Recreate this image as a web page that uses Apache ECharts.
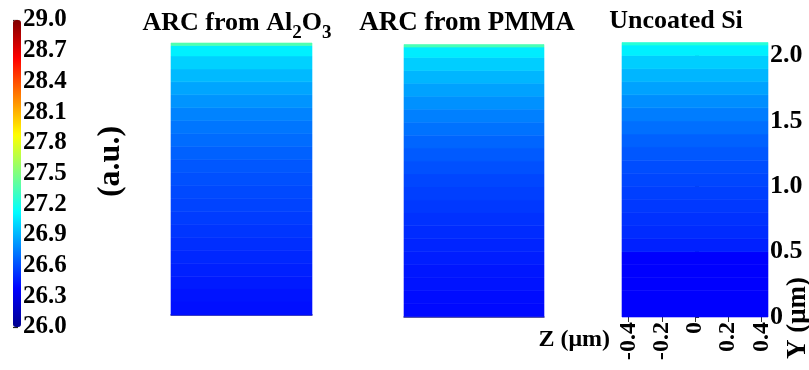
<!DOCTYPE html>
<html>
<head>
<meta charset="utf-8">
<script src="https://cdn.jsdelivr.net/npm/echarts@6/dist/echarts.min.js"></script>
<style>
  html, body { margin: 0; padding: 0; background: #fff; }
  #chart { width: 809px; height: 370px; }
</style>
</head>
<body>
<div id="chart"></div>
<script>
// Colour-bar tick labels (a.u.)
const colorTicks = ['26.0', '26.3', '26.6', '26.9', '27.2', '27.5', '27.8', '28.1', '28.4', '28.7', '29.0'];
// Lateral position ticks, Z (µm)
const zTicks = [-0.4, -0.2, 0, 0.2, 0.4];
// Height ticks, Y (µm)
const yTicks = [0, 0.5, 1.0, 1.5, 2.0];

// Row boundaries in Y (µm); each field value fills one row across the full width
const yEdges = [0, 0.1, 0.2, 0.3, 0.4, 0.5, 0.6, 0.7, 0.8, 0.9, 1.0,
                1.1, 1.2, 1.3, 1.4, 1.5, 1.6, 1.7, 1.8, 1.9, 2.0, 2.08, 2.1];

// Field value per row, bottom to top
const al2o3Field = [26.42, 26.43, 26.45, 26.47, 26.49, 26.51, 26.53, 26.55, 26.57, 26.59, 26.61,
                    26.63, 26.66, 26.69, 26.72, 26.76, 26.81, 26.86, 26.92, 26.99, 27.08, 27.36];
const pmmaField  = [26.40, 26.41, 26.43, 26.44, 26.46, 26.48, 26.50, 26.52, 26.54, 26.56, 26.58,
                    26.61, 26.64, 26.67, 26.71, 26.75, 26.80, 26.85, 26.91, 26.98, 27.07, 27.34];
const siField    = [26.37, 26.37, 26.37, 26.37, 26.37, 26.47, 26.50, 26.52, 26.54, 26.56, 26.58,
                    26.60, 26.63, 26.66, 26.70, 26.74, 26.79, 26.85, 26.91, 26.98, 27.08, 27.24];

const panelTitles = ['ARC from Al{s|2}O{s|3}', 'ARC from PMMA', 'Uncoated Si'];

const Z_MIN = -0.44, Z_MAX = 0.44, Y_MIN = 0, Y_MAX = 2.1;
const FONT = '"Liberation Serif", "Times New Roman", serif';
const jet = ['#00008f', '#0000ff', '#0080ff', '#00ffff', '#80ff80', '#ffff00', '#ff8000', '#ff0000', '#800000'];

function rows(field) {
  return field.map((v, i) => [yEdges[i], yEdges[i + 1], v]);
}

function renderRow(params, api) {
  const p0 = api.coord([Z_MIN, api.value(0)]);
  const p1 = api.coord([Z_MAX, api.value(1)]);
  const color = api.visual('color');
  return {
    type: 'rect',
    shape: { x: p0[0], y: p1[1], width: p1[0] - p0[0], height: p0[1] - p1[1] },
    style: { fill: color, stroke: color, lineWidth: 0.6 }
  };
}

const chart = echarts.init(document.getElementById('chart'), null, { renderer: 'canvas' });

const panelGrids = [
  { left: 171, top: 43, width: 141, height: 272 },
  { left: 404, top: 44.5, width: 140, height: 272 },
  { left: 622, top: 42.5, width: 146, height: 274.5 }
];

const darkEdge = { show: true, lineStyle: { color: '#1c1c8c', width: 1.5 } };

const option = {
  animation: false,
  backgroundColor: '#ffffff',
  grid: [{ left: 13, top: 20, width: 8, height: 307 }].concat(panelGrids),
  xAxis: [
    { gridIndex: 0, type: 'value', show: false },
    { gridIndex: 1, type: 'value', min: Z_MIN, max: Z_MAX, axisLine: darkEdge, axisTick: { show: false },
      axisLabel: { show: false }, splitLine: { show: false } },
    { gridIndex: 2, type: 'value', min: Z_MIN, max: Z_MAX, axisLine: darkEdge, axisTick: { show: false },
      axisLabel: { show: false }, splitLine: { show: false } },
    {
      gridIndex: 3, type: 'value', min: Z_MIN, max: Z_MAX,
      axisLine: { show: false },
      splitLine: { show: false },
      axisTick: { show: true, customValues: zTicks, length: 5, lineStyle: { color: '#333', width: 1 } },
      axisLabel: {
        customValues: zTicks, rotate: 90, margin: 5,
        fontFamily: FONT, fontWeight: 'bold', fontSize: 24, color: '#000'
      },
      name: 'Z (μm)', nameLocation: 'start', nameGap: 12,
      nameTextStyle: { fontFamily: FONT, fontWeight: 'bold', fontSize: 24, color: '#000',
                       verticalAlign: 'top', lineHeight: 46 }
    }
  ],
  yAxis: [
    {
      gridIndex: 0, type: 'category', data: colorTicks, boundaryGap: false, position: 'right',
      axisLine: { show: false },
      axisTick: { show: true, length: 5, lineStyle: { color: '#222', width: 1.2 } },
      axisLabel: { interval: 0, margin: 2, fontFamily: FONT, fontWeight: 'bold', fontSize: 25, color: '#000' },
      name: '(a.u.)', nameLocation: 'middle', nameRotate: 90, nameGap: 74,
      nameTextStyle: { fontFamily: FONT, fontWeight: 'bold', fontSize: 32, color: '#000', padding: [0, 0, 0, 24] }
    },
    { gridIndex: 1, type: 'value', min: Y_MIN, max: Y_MAX, show: false },
    { gridIndex: 2, type: 'value', min: Y_MIN, max: Y_MAX, show: false },
    {
      gridIndex: 3, type: 'value', min: Y_MIN, max: Y_MAX, position: 'right',
      axisLine: { show: false },
      splitLine: { show: false },
      axisTick: { show: true, customValues: yTicks, length: 4, lineStyle: { color: '#333', width: 1 } },
      axisLabel: {
        customValues: yTicks, margin: 2,
        formatter: v => (v === 0 ? '0' : v.toFixed(1)),
        fontFamily: FONT, fontWeight: 'bold', fontSize: 26, color: '#000'
      }
    }
  ],
  visualMap: {
    type: 'continuous', min: 26, max: 29, dimension: 2, seriesIndex: [0, 1, 2],
    orient: 'vertical', left: 13, top: 20, itemWidth: 8, itemHeight: 307, padding: 0,
    calculable: false, hoverLink: false, inRange: { color: jet }
  },
  series: [al2o3Field, pmmaField, siField].map((field, i) => ({
    type: 'custom',
    name: panelTitles[i],
    xAxisIndex: i + 1,
    yAxisIndex: i + 1,
    dimensions: ['y0', 'y1', 'value'],
    encode: { y: [0, 1] },
    renderItem: renderRow,
    data: rows(field)
  })),
  graphic: [
    { x: 237, y: 25 }, { x: 467, y: 25 }, { x: 676, y: 23 }
  ].map((pos, i) => ({
    type: 'text', x: pos.x, y: pos.y,
    style: {
      text: '{n|' + panelTitles[i].replace(/\{s\|(\d)\}/g, '}{s|$1}{n|') + '}',
      align: 'center', verticalAlign: 'middle',
      rich: {
        n: { fontFamily: FONT, fontWeight: 'bold', fontSize: i === 1 ? 27 : 26, lineHeight: 30, verticalAlign: 'top', fill: '#000' },
        s: { fontFamily: FONT, fontWeight: 'bold', fontSize: 19, lineHeight: 19, padding: [14, 0, 0, 0], verticalAlign: 'top', fill: '#000' }
      }
    }
  })).concat([{
    type: 'text', x: 798, y: 318, rotation: Math.PI / 2,
    style: {
      text: 'Y (μm)', align: 'center', verticalAlign: 'middle',
      fontFamily: FONT, fontWeight: 'bold', fontSize: 27, fill: '#000'
    }
  }])
};

chart.setOption(option);
</script>
</body>
</html>
